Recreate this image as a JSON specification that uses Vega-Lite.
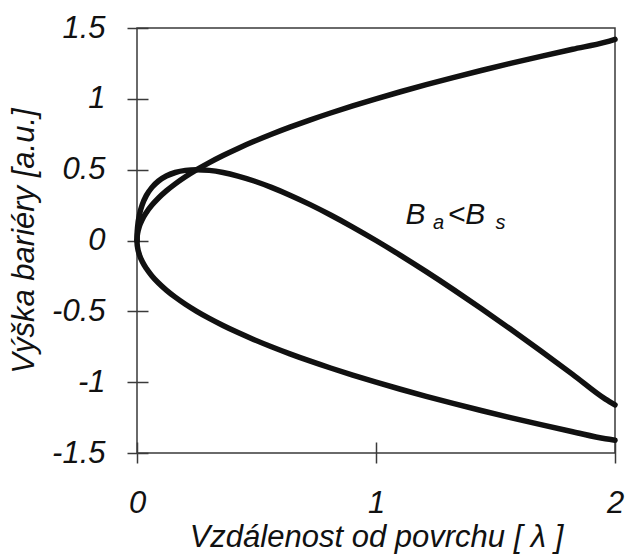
{
  "$schema": "https://vega.github.io/schema/vega-lite/v6.json",
  "width": 478,
  "height": 425,
  "autosize": {"type": "none"},
  "padding": {"left": 137, "top": 28, "right": 10, "bottom": 104},
  "background": "white",
  "config": {
    "view": {"stroke": "#3a3a3a", "strokeWidth": 1.5},
    "font": "Liberation Sans",
    "axis": {
      "domain": false,
      "tickColor": "#3a3a3a",
      "tickWidth": 1.5,
      "grid": false,
      "labelFont": "Liberation Sans",
      "labelFontStyle": "italic",
      "labelFontSize": 31,
      "labelColor": "#111",
      "labelFlush": false,
      "labelOverlap": false,
      "titleFont": "Liberation Sans",
      "titleFontStyle": "italic",
      "titleFontWeight": "normal",
      "titleFontSize": 31,
      "titleColor": "#111"
    }
  },
  "datasets": {
    "curves": [
      {"curve": "upper", "x": 0, "y": 0},
      {"curve": "upper", "x": 0.000625, "y": 0.025},
      {"curve": "upper", "x": 0.0025, "y": 0.05},
      {"curve": "upper", "x": 0.01, "y": 0.1},
      {"curve": "upper", "x": 0.0225, "y": 0.15},
      {"curve": "upper", "x": 0.04, "y": 0.2},
      {"curve": "upper", "x": 0.0625, "y": 0.25},
      {"curve": "upper", "x": 0.09, "y": 0.3},
      {"curve": "upper", "x": 0.1225, "y": 0.35},
      {"curve": "upper", "x": 0.16, "y": 0.4},
      {"curve": "upper", "x": 0.2025, "y": 0.45},
      {"curve": "upper", "x": 0.25, "y": 0.5},
      {"curve": "upper", "x": 0.3025, "y": 0.55},
      {"curve": "upper", "x": 0.36, "y": 0.6},
      {"curve": "upper", "x": 0.4225, "y": 0.65},
      {"curve": "upper", "x": 0.49, "y": 0.7},
      {"curve": "upper", "x": 0.5625, "y": 0.75},
      {"curve": "upper", "x": 0.64, "y": 0.8},
      {"curve": "upper", "x": 0.7225, "y": 0.85},
      {"curve": "upper", "x": 0.81, "y": 0.9},
      {"curve": "upper", "x": 0.9025, "y": 0.95},
      {"curve": "upper", "x": 1.0, "y": 1.0},
      {"curve": "upper", "x": 1.1025, "y": 1.05},
      {"curve": "upper", "x": 1.21, "y": 1.1},
      {"curve": "upper", "x": 1.3225, "y": 1.15},
      {"curve": "upper", "x": 1.44, "y": 1.2},
      {"curve": "upper", "x": 1.5625, "y": 1.25},
      {"curve": "upper", "x": 1.69, "y": 1.3},
      {"curve": "upper", "x": 1.8225, "y": 1.35},
      {"curve": "upper", "x": 1.96, "y": 1.4},
      {"curve": "upper", "x": 2.0, "y": 1.42},

      {"curve": "lower", "x": 0, "y": 0},
      {"curve": "lower", "x": 0.000625, "y": -0.025},
      {"curve": "lower", "x": 0.0025, "y": -0.05},
      {"curve": "lower", "x": 0.01, "y": -0.1},
      {"curve": "lower", "x": 0.0225, "y": -0.15},
      {"curve": "lower", "x": 0.04, "y": -0.2},
      {"curve": "lower", "x": 0.0625, "y": -0.25},
      {"curve": "lower", "x": 0.09, "y": -0.3},
      {"curve": "lower", "x": 0.1225, "y": -0.35},
      {"curve": "lower", "x": 0.16, "y": -0.4},
      {"curve": "lower", "x": 0.2025, "y": -0.45},
      {"curve": "lower", "x": 0.25, "y": -0.5},
      {"curve": "lower", "x": 0.3025, "y": -0.55},
      {"curve": "lower", "x": 0.36, "y": -0.6},
      {"curve": "lower", "x": 0.4225, "y": -0.65},
      {"curve": "lower", "x": 0.49, "y": -0.7},
      {"curve": "lower", "x": 0.5625, "y": -0.75},
      {"curve": "lower", "x": 0.64, "y": -0.8},
      {"curve": "lower", "x": 0.7225, "y": -0.85},
      {"curve": "lower", "x": 0.81, "y": -0.9},
      {"curve": "lower", "x": 0.9025, "y": -0.95},
      {"curve": "lower", "x": 1.0, "y": -1.0},
      {"curve": "lower", "x": 1.1025, "y": -1.05},
      {"curve": "lower", "x": 1.21, "y": -1.1},
      {"curve": "lower", "x": 1.3225, "y": -1.15},
      {"curve": "lower", "x": 1.44, "y": -1.2},
      {"curve": "lower", "x": 1.5625, "y": -1.25},
      {"curve": "lower", "x": 1.69, "y": -1.3},
      {"curve": "lower", "x": 1.8225, "y": -1.35},
      {"curve": "lower", "x": 1.96, "y": -1.4},
      {"curve": "lower", "x": 2.0, "y": -1.41},

      {"curve": "hump", "x": 0, "y": 0},
      {"curve": "hump", "x": 0.000625, "y": 0.049},
      {"curve": "hump", "x": 0.0025, "y": 0.095},
      {"curve": "hump", "x": 0.01, "y": 0.18},
      {"curve": "hump", "x": 0.0225, "y": 0.255},
      {"curve": "hump", "x": 0.04, "y": 0.32},
      {"curve": "hump", "x": 0.0625, "y": 0.375},
      {"curve": "hump", "x": 0.09, "y": 0.42},
      {"curve": "hump", "x": 0.1225, "y": 0.455},
      {"curve": "hump", "x": 0.16, "y": 0.48},
      {"curve": "hump", "x": 0.2025, "y": 0.495},
      {"curve": "hump", "x": 0.25, "y": 0.5},
      {"curve": "hump", "x": 0.3025, "y": 0.495},
      {"curve": "hump", "x": 0.36, "y": 0.48},
      {"curve": "hump", "x": 0.4225, "y": 0.455},
      {"curve": "hump", "x": 0.49, "y": 0.42},
      {"curve": "hump", "x": 0.5625, "y": 0.375},
      {"curve": "hump", "x": 0.64, "y": 0.32},
      {"curve": "hump", "x": 0.7225, "y": 0.255},
      {"curve": "hump", "x": 0.81, "y": 0.18},
      {"curve": "hump", "x": 0.9025, "y": 0.095},
      {"curve": "hump", "x": 1.0, "y": 0.0},
      {"curve": "hump", "x": 1.1025, "y": -0.105},
      {"curve": "hump", "x": 1.21, "y": -0.22},
      {"curve": "hump", "x": 1.3225, "y": -0.345},
      {"curve": "hump", "x": 1.44, "y": -0.48},
      {"curve": "hump", "x": 1.5625, "y": -0.625},
      {"curve": "hump", "x": 1.69, "y": -0.78},
      {"curve": "hump", "x": 1.8225, "y": -0.945},
      {"curve": "hump", "x": 1.96, "y": -1.12},
      {"curve": "hump", "x": 2.0, "y": -1.16}
    ],
    "bigText": [
      {"x": 1.123, "y": 0.12, "t": "B"},
      {"x": 1.3, "y": 0.12, "t": "<B"}
    ],
    "subText": [
      {"x": 1.238, "y": 0.078, "t": "a"},
      {"x": 1.5, "y": 0.078, "t": "s"}
    ]
  },
  "encoding": {
    "x": {
      "field": "x", "type": "quantitative",
      "scale": {"domain": [0, 2], "nice": false, "zero": false},
      "axis": {"orient": "bottom", "values": [0, 1, 2], "labelExpr": "'' + datum.value", "offset": -11, "tickSize": 21, "labelPadding": 25, "title": "Vzdálenost od povrchu [ λ ]", "titlePadding": 4}
    },
    "y": {
      "field": "y", "type": "quantitative",
      "scale": {"domain": [-1.5, 1.5], "nice": false, "zero": false},
      "axis": {"orient": "left", "values": [-1.5, -1, -0.5, 0, 0.5, 1, 1.5], "labelExpr": "'' + datum.value", "offset": -11, "tickSize": 21, "labelPadding": 22, "title": "Výška bariéry [a.u.]", "titlePadding": 11}
    }
  },
  "layer": [
    {
      "data": {"name": "curves"},
      "mark": {"type": "line", "interpolate": "monotone", "strokeWidth": 5.5, "color": "#111", "strokeCap": "round", "strokeJoin": "round"},
      "encoding": {
        "detail": {"field": "curve"}
      }
    },
    {
      "data": {"name": "bigText"},
      "mark": {"type": "text", "align": "left", "baseline": "alphabetic", "fontSize": 30, "fontStyle": "italic", "font": "Liberation Sans", "color": "#111"},
      "encoding": {
        "text": {"field": "t"}
      }
    },
    {
      "data": {"name": "subText"},
      "mark": {"type": "text", "align": "left", "baseline": "alphabetic", "fontSize": 20, "fontStyle": "italic", "font": "Liberation Sans", "color": "#111"},
      "encoding": {
        "text": {"field": "t"}
      }
    }
  ]
}
